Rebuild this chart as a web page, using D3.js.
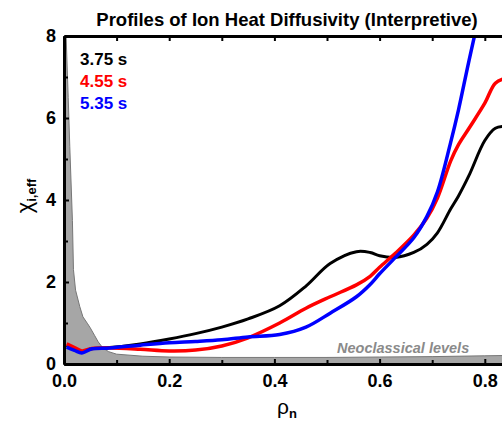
<!DOCTYPE html>
<html>
<head>
<meta charset="utf-8">
<script src="https://cdn.jsdelivr.net/npm/d3@7"></script>
<style>
  body { margin: 0; background: #fff; }
  svg { display: block; font-family: "Liberation Sans", Arial, sans-serif; }
</style>
</head>
<body>
<svg width="502" height="421"></svg>
<script>
// radius grid shared by the three profiles
const rho = [0.005, 0.02, 0.034, 0.053, 0.087, 0.145, 0.2, 0.25, 0.3, 0.35, 0.41, 0.46, 0.506,
  0.556, 0.582, 0.6, 0.63, 0.665, 0.69, 0.71, 0.735, 0.75, 0.77, 0.8, 0.82, 0.84];

const chi375 = [0.45, 0.37, 0.3, 0.37, 0.40, 0.49, 0.61, 0.74, 0.9, 1.1, 1.42, 1.9, 2.45,
  2.74, 2.72, 2.64, 2.6, 2.72, 2.92, 3.2, 3.78, 4.1, 4.6, 5.45, 5.75, 5.8];
const chi455 = [0.49, 0.4, 0.32, 0.38, 0.39, 0.36, 0.32, 0.34, 0.44, 0.64, 1.0, 1.36, 1.64,
  1.93, 2.14, 2.36, 2.7, 3.14, 3.56, 4.05, 4.95, 5.35, 5.75, 6.36, 6.85, 6.97];
const chi535 = [0.41, 0.33, 0.27, 0.37, 0.39, 0.46, 0.52, 0.55, 0.59, 0.66, 0.72, 0.9, 1.24,
  1.64, 1.94, 2.2, 2.6, 3.08, 3.6, 4.2, 5.4, 6.2, 7.4, 9.1, 10.1, 11];

// neoclassical level (shaded)
const neoRho = [0, 0.004, 0.008, 0.011, 0.016, 0.018, 0.022, 0.03, 0.036, 0.045, 0.05, 0.058,
  0.065, 0.074, 0.085, 0.1, 0.15, 0.2, 0.3, 0.4, 0.5, 0.6, 0.7, 0.8, 0.9, 1.0];
const neoChi = [9, 8, 6.5, 5.3, 3.5, 2.3, 1.8, 1.4, 1.15, 0.98, 0.88, 0.7,
  0.54, 0.39, 0.3, 0.24, 0.19, 0.17, 0.16, 0.16, 0.16, 0.17, 0.18, 0.2, 0.22, 0.23];

const times = ['3.75 s', '4.55 s', '5.35 s'];
const colors = ['#000000', '#ff0000', '#0000ff'];
const series = [chi375, chi455, chi535];

const xMajor = [0, 0.2, 0.4, 0.6, 0.8, 1.0];
const xMinor = [0.1, 0.3, 0.5, 0.7, 0.9];
const yMajor = [0, 2, 4, 6, 8];
const yMinor = [1, 3, 5, 7];

const svg = d3.select('svg');

const x = d3.scaleLinear().domain([0, 1]).range([64, 590]);
const y = d3.scaleLinear().domain([0, 8]).range([364, 36]);

svg.append('clipPath').attr('id', 'plot')
  .append('rect')
    .attr('x', x(0)).attr('y', y(8))
    .attr('width', x(1) - x(0)).attr('height', y(0) - y(8));

const plot = svg.append('g').attr('clip-path', 'url(#plot)');

const neo = neoRho.map((r, i) => [r, neoChi[i]]);

plot.append('path')
    .attr('d', d3.area().x(d => x(d[0])).y0(y(0)).y1(d => y(d[1]))(neo))
    .attr('fill', '#a6a6a6');

plot.append('path')
    .attr('d', d3.line().x(d => x(d[0])).y(d => y(d[1]))(neo))
    .attr('fill', 'none')
    .attr('stroke', '#777')
    .attr('stroke-width', 1);

const line = d3.line()
    .x(d => x(d[0]))
    .y(d => y(d[1]))
    .curve(d3.curveCatmullRom.alpha(0.5));

series.forEach((vals, k) => {
  plot.append('path')
      .attr('d', line(rho.map((r, i) => [r, vals[i]])))
      .attr('fill', 'none')
      .attr('stroke', colors[k])
      .attr('stroke-width', k === 0 ? 3 : 3.5)
      .attr('stroke-linejoin', 'round');
});

plot.append('text')
    .attr('x', 337)
    .attr('y', 353)
    .attr('fill', '#8a8a8a')
    .attr('font-size', 14.5)
    .attr('font-weight', 'bold')
    .attr('font-style', 'italic')
    .text('Neoclassical levels');

// axes
const styleAxis = g => {
  g.selectAll('.domain').attr('stroke', '#000').attr('stroke-width', 3);
  g.selectAll('.tick line').attr('stroke', '#000').attr('stroke-width', 2);
  g.selectAll('.tick text')
      .attr('font-family', '"Liberation Sans", Arial, sans-serif')
      .attr('font-size', 18)
      .attr('font-weight', 'bold')
      .attr('fill', '#000');
};

svg.append('g')
    .attr('transform', `translate(0,${y(0)})`)
    .call(d3.axisBottom(x).tickValues(xMinor).tickSizeInner(-4).tickSizeOuter(0).tickFormat(''))
    .call(styleAxis);

svg.append('g')
    .attr('transform', `translate(0,${y(0)})`)
    .call(d3.axisBottom(x).tickValues(xMajor).tickSizeInner(-5).tickSizeOuter(0)
      .tickPadding(10).tickFormat(d3.format('.1f')))
    .call(styleAxis);

svg.append('g')
    .attr('transform', `translate(0,${y(8)})`)
    .call(d3.axisTop(x).tickValues(xMajor.concat(xMinor)).tickSizeInner(-5).tickSizeOuter(0).tickFormat(''))
    .call(styleAxis);

svg.append('g')
    .attr('transform', `translate(${x(0)},0)`)
    .call(d3.axisLeft(y).tickValues(yMinor).tickSizeInner(-4).tickSizeOuter(0).tickFormat(''))
    .call(styleAxis);

svg.append('g')
    .attr('transform', `translate(${x(0)},0)`)
    .call(d3.axisLeft(y).tickValues(yMajor).tickSizeInner(-5).tickSizeOuter(0)
      .tickPadding(8).tickFormat(d3.format('d')))
    .call(styleAxis);

// legend
times.forEach((t, k) => {
  svg.append('text')
      .attr('x', 80)
      .attr('y', 65 + k * 22)
      .attr('fill', colors[k])
      .attr('font-size', 17)
      .attr('font-weight', 'bold')
      .text(t);
});

// title
svg.append('text')
    .attr('x', 287)
    .attr('y', 26)
    .attr('text-anchor', 'middle')
    .attr('font-size', 18.5)
    .attr('font-weight', 'bold')
    .text('Profiles of Ion Heat Diffusivity (Interpretive)');

// x label
const xl = svg.append('text')
    .attr('x', 287)
    .attr('y', 414)
    .attr('text-anchor', 'middle');
xl.append('tspan').attr('font-size', 21).text('ρ');
xl.append('tspan').attr('font-size', 13).attr('font-weight', 'bold').attr('dy', 4).text('n');

// y label
const yl = svg.append('text')
    .attr('transform', 'translate(32,196) rotate(-90)')
    .attr('text-anchor', 'middle');
yl.append('tspan').attr('font-size', 22).text('χ');
yl.append('tspan').attr('font-size', 13).attr('font-weight', 'bold').attr('dy', 4).text('i,eff');
</script>
</body>
</html>
